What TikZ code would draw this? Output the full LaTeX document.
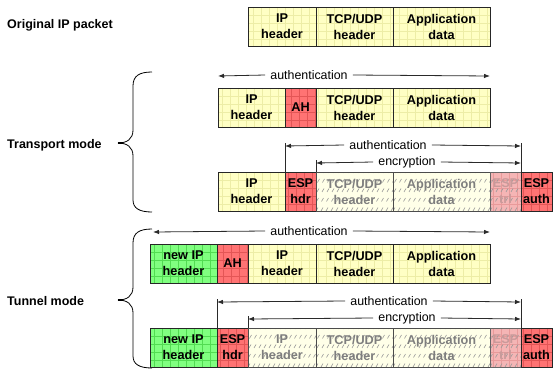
\documentclass[tikz,border=0pt]{standalone}
\usepackage{fontspec}
\setmainfont{Liberation Sans}
\usetikzlibrary{arrows.meta}

\definecolor{ylw}{HTML}{FFFFC4}
\definecolor{ylwgrid}{HTML}{EDEDA6}
\definecolor{hdrred}{HTML}{FF7373}
\definecolor{redgrid}{HTML}{E35656}
\definecolor{grn}{HTML}{80FF80}
\definecolor{grngrid}{HTML}{52DB52}
\definecolor{pale}{HTML}{FFFFE8}
\definecolor{palepink}{HTML}{F5B5B5}
\definecolor{pinkgrid}{HTML}{E89A9A}
\definecolor{hatch}{HTML}{9A9A9A}
\definecolor{dimtext}{HTML}{7E7E7E}
\definecolor{dimpink}{HTML}{C99A9A}
\definecolor{wire}{HTML}{2A2A2A}

\tikzset{
  pkt/.style={draw=black!85, line width=0.8pt, outer sep=0pt, inner sep=0pt,
    minimum height=39pt, anchor=north west, align=center,
    font=\bfseries\fontsize{12.7}{16}\selectfont},
  gridfill/.style={path picture={
    \draw[#1, line width=0.5pt, step=8pt]
      (path picture bounding box.south west) grid (path picture bounding box.north east);}},
  slashes/.style={path picture={
    \foreach \k in {-60,-55,...,110}
      \draw[hatch, line width=0.6pt, dash pattern=on 4pt off 7pt]
        ([xshift=\k pt]path picture bounding box.south west) -- ++(30pt,52pt);}},
  gridslashes/.style={path picture={
    \draw[pinkgrid, line width=0.5pt, step=8pt]
      (path picture bounding box.south west) grid (path picture bounding box.north east);
    \foreach \k in {-60,-55,...,40}
      \draw[hatch, line width=0.6pt, dash pattern=on 4pt off 7pt]
        ([xshift=\k pt]path picture bounding box.south west) -- ++(30pt,52pt);}},
  yelbox/.style={pkt, fill=ylw, gridfill=ylwgrid},
  redbox/.style={pkt, fill=hdrred, gridfill=redgrid},
  grnbox/.style={pkt, fill=grn, gridfill=grngrid},
  cipherbox/.style={pkt, fill=pale, text=dimtext, draw=black!70, slashes},
  trlbox/.style={pkt, fill=palepink, text=dimpink, draw=black!60, gridslashes},
  caption/.style={anchor=west, inner sep=0pt, font=\bfseries\fontsize{12.5}{15}\selectfont},
  span/.style={fill=white, inner xsep=5pt, inner ysep=1pt, font=\fontsize{12.4}{14}\selectfont},
  wireline/.style={draw=wire, line width=0.8pt},
  spanarrow/.style={wireline, -{Latex[length=6pt,width=4.5pt]}},
  bracepath/.style={draw=black, line width=0.8pt},
}

\begin{document}
\begin{tikzpicture}[x=1pt, y=-1pt]
\fill[white] (0,0) rectangle (553,370);
\useasboundingbox (0,0) rectangle (553,370);

% ---------- left captions ----------
\node[caption] (cap-orig) at (7,25) {Original IP packet};
\node[caption] (cap-trans) at (7,145) {Transport mode};
\node[caption] (cap-tun) at (7,301) {Tunnel mode};

% ---------- braces ----------
\draw[bracepath] (152,72) .. controls (139,72) and (133,76) .. (133,86) -- (133,130)
  .. controls (133,139) and (127,143) .. (118,143)
  .. controls (127,143) and (133,147) .. (133,156) -- (133,200)
  .. controls (133,208) and (139,212) .. (152,212);
\draw[line width=1.5pt] (118,143) -- (123,143);

\draw[bracepath] (152,229) .. controls (139,229) and (133,233) .. (133,243) -- (133,287)
  .. controls (133,296) and (127,300) .. (118,300)
  .. controls (127,300) and (133,304) .. (133,313) -- (133,356)
  .. controls (133,364) and (139,368) .. (152,368);
\draw[line width=1.5pt] (118,300) -- (123,300);

% ---------- original packet ----------
\node[yelbox, minimum width=68pt] (o-ip) at (248,7) {IP\\header};
\node[yelbox, minimum width=77pt] (o-tcp) at (o-ip.north east) {TCP/UDP\\header};
\node[yelbox, minimum width=97pt] (o-app) at (o-tcp.north east) {Application\\data};

% ---------- transport mode, AH ----------
\node[yelbox, minimum width=67pt] (t-ip) at (218,88) {IP\\header};
\node[redbox, minimum width=31pt] (t-ah) at (t-ip.north east) {AH};
\node[yelbox, minimum width=77pt] (t-tcp) at (t-ah.north east) {TCP/UDP\\header};
\node[yelbox, minimum width=97pt] (t-app) at (t-tcp.north east) {Application\\data};

\coordinate (a2L) at (218,76);
\coordinate (a2R) at (490,76);
\node[span] (a2T) at (309,75) {authentication};
\draw[spanarrow] (a2T.west) -- (a2L);
\draw[spanarrow] (a2T.east) -- (a2R);

% ---------- transport mode, ESP ----------
\node[yelbox, minimum width=67pt] (e-ip) at (218,172) {IP\\header};
\node[redbox, minimum width=31pt] (e-hdr) at (e-ip.north east) {ESP\\hdr};
\node[cipherbox, minimum width=77pt] (e-tcp) at (e-hdr.north east) {TCP/UDP\\header};
\node[cipherbox, minimum width=97pt] (e-app) at (e-tcp.north east) {Application\\data};
\node[trlbox, minimum width=31pt] (e-trl) at (e-app.north east) {ESP\\trl};
\node[redbox, minimum width=31pt] (e-auth) at (e-trl.north east) {ESP\\auth};

\coordinate (v3a) at (285,143);
\coordinate (v3b) at (316,160);
\coordinate (v3c) at (521,143);
\draw[wireline] (v3a) -- (e-hdr.north west);
\draw[wireline] (v3b) -- (e-tcp.north west);
\draw[wireline] (v3c) -- (e-auth.north west);

\coordinate (b3L) at (285,146);
\coordinate (b3R) at (521,146);
\node[span] (b3T) at (388,145) {authentication};
\draw[spanarrow] (b3T.west) -- (b3L);
\draw[spanarrow] (b3T.east) -- (b3R);

\coordinate (c3L) at (316,163);
\coordinate (c3R) at (521,163);
\node[span] (c3T) at (407,162) {encryption};
\draw[spanarrow] (c3T.west) -- (c3L);
\draw[spanarrow] (c3T.east) -- (c3R);

% ---------- tunnel mode, AH ----------
\node[grnbox, minimum width=67pt] (n-new) at (150,244) {new IP\\header};
\node[redbox, minimum width=31pt] (n-ah) at (n-new.north east) {AH};
\node[yelbox, minimum width=68pt] (n-ip) at (n-ah.north east) {IP\\header};
\node[yelbox, minimum width=77pt] (n-tcp) at (n-ip.north east) {TCP/UDP\\header};
\node[yelbox, minimum width=97pt] (n-app) at (n-tcp.north east) {Application\\data};

\coordinate (a4L) at (153,232);
\coordinate (a4R) at (490,232);
\node[span] (a4T) at (309,231) {authentication};
\draw[spanarrow] (a4T.west) -- (a4L);
\draw[spanarrow] (a4T.east) -- (a4R);

% ---------- tunnel mode, ESP ----------
\node[grnbox, minimum width=67pt] (m-new) at (150,328) {new IP\\header};
\node[redbox, minimum width=31pt] (m-hdr) at (m-new.north east) {ESP\\hdr};
\node[cipherbox, minimum width=68pt] (m-ip) at (m-hdr.north east) {IP\\header};
\node[cipherbox, minimum width=77pt] (m-tcp) at (m-ip.north east) {TCP/UDP\\header};
\node[cipherbox, minimum width=97pt] (m-app) at (m-tcp.north east) {Application\\data};
\node[trlbox, minimum width=31pt] (m-trl) at (m-app.north east) {ESP\\trl};
\node[redbox, minimum width=31pt] (m-auth) at (m-trl.north east) {ESP\\auth};

\coordinate (v5a) at (217,299);
\coordinate (v5b) at (248,316);
\coordinate (v5c) at (521,299);
\draw[wireline] (v5a) -- (m-hdr.north west);
\draw[wireline] (v5b) -- (m-ip.north west);
\draw[wireline] (v5c) -- (m-auth.north west);

\coordinate (b5L) at (217,302);
\coordinate (b5R) at (521,302);
\node[span] (b5T) at (389,301) {authentication};
\draw[spanarrow] (b5T.west) -- (b5L);
\draw[spanarrow] (b5T.east) -- (b5R);

\coordinate (c5L) at (248,319);
\coordinate (c5R) at (521,319);
\node[span] (c5T) at (407,318) {encryption};
\draw[spanarrow] (c5T.west) -- (c5L);
\draw[spanarrow] (c5T.east) -- (c5R);
\end{tikzpicture}
\end{document}
